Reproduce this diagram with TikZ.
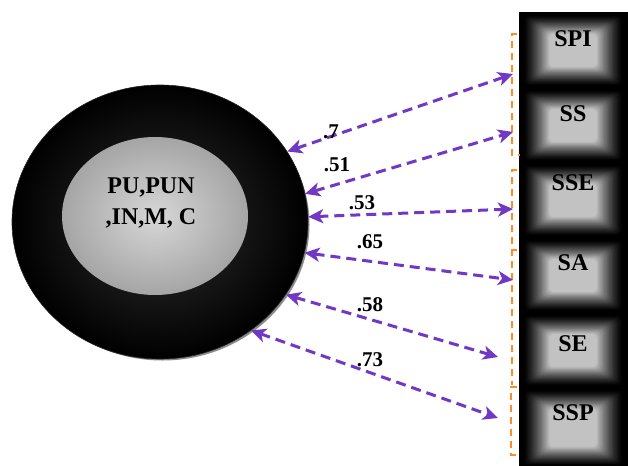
\documentclass[tikz,border=0pt]{standalone}
\usepackage{fontspec}
\setmainfont{Liberation Serif}
\usetikzlibrary{shapes.geometric,arrows.meta}
\definecolor{arrowpurple}{RGB}{112,56,196}
\definecolor{bracketorange}{RGB}{255,140,40}
\definecolor{ringgrey}{RGB}{48,48,48}
\definecolor{rimgrey}{RGB}{140,140,140}
\definecolor{innerlight}{RGB}{215,215,215}
\definecolor{innerdark}{RGB}{165,165,165}
\tikzset{
  obsbox/.style={rectangle, minimum width=108pt, minimum height=75pt, inner sep=0pt,
    fill=black, draw=black, line width=0.8pt,
    path picture={
      \foreach \i in {0,...,21}{
        \pgfmathsetmacro\pp{76*(\i/21)^1.3}
        \pgfmathsetmacro\dx{4+1.25*\i}
        \pgfmathsetmacro\dy{3+0.9*\i}
        \fill[white!\pp!black, rounded corners=4pt]
          ([xshift=\dx pt, yshift=\dy pt - 2pt]path picture bounding box.south west) rectangle
          ([xshift=-\dx pt, yshift=-\dy pt]path picture bounding box.north east);
      }
    }},
  boxlabel/.style={font=\fontsize{24}{28}\selectfont\bfseries, text=black, anchor=north},
  outerell/.style={ellipse, minimum width=296pt, minimum height=274pt, inner sep=0pt,
    inner color=ringgrey, outer color=black, draw=black!85, line width=0.6pt},
  innerell/.style={ellipse, minimum width=186pt, minimum height=158pt, inner sep=0pt,
    inner color=innerlight, outer color=innerdark},
  lattext/.style={font=\fontsize{24}{31}\selectfont\bfseries, align=center, inner sep=0pt},
  biarrow/.style={draw=arrowpurple, line width=3pt, dash pattern=on 10pt off 6pt,
    {Stealth[length=15pt,width=14pt,inset=4pt]}-{Stealth[length=15pt,width=14pt,inset=4pt]}},
  coef/.style={font=\fontsize{21}{24}\selectfont\bfseries, inner sep=0pt},
  bracket/.style={draw=bracketorange, line width=1.5pt, dash pattern=on 7pt off 5pt}
}
\begin{document}
\begin{tikzpicture}[x=1pt,y=-1pt]
\useasboundingbox (0,0) rectangle (628,465);
\clip (0,0) rectangle (628,465);
\fill[white] (0,0) rectangle (628,465);

% observed boxes
\node[obsbox, label={[boxlabel, yshift=-15pt]north:SPI}] (spi) at (573,49.5) {};
\node[obsbox, label={[boxlabel, yshift=-15pt]north:SS}]  (ss)  at (573,124.5) {};
\node[obsbox, label={[boxlabel, yshift=-9pt]north:SSE}]  (sse) at (573,199.5) {};
\node[obsbox, label={[boxlabel, yshift=-14pt]north:SA}]  (sa)  at (573,274.5) {};
\node[obsbox, label={[boxlabel, yshift=-20pt]north:SE}]  (se)  at (573,349.5) {};
\node[obsbox, minimum height=80pt, label={[boxlabel, yshift=-14pt]north:SSP}] (ssp) at (573,427) {};

% orange dashed brackets
\draw[bracket] (517,34) -- (512,34) -- (512,155) -- (520,155);
\draw[bracket] (517,170) -- (512,170) -- (512,385);
\draw[bracket] (512,250) -- (517,250);
\draw[bracket] (517,387) -- (511,387) -- (511,455) -- (517,455);

% latent variable
\fill[rimgrey] (162.5,224.5) ellipse (147 and 136);
\node[outerell] (lat) at (160,222) {};
\node[innerell] (inner) at (155,216) {};
\node[lattext] (latname) at (151,203) {PU,PUN\\,IN,M, C};

% arrow end points
\coordinate (r1) at (513,74);
\coordinate (r2) at (513,132);
\coordinate (r3) at (513,209);
\coordinate (r4) at (513,280);
\coordinate (r5) at (498,357);
\coordinate (r6) at (498,418);

\draw[biarrow] (lat.29) -- (r1);
\draw[biarrow] (lat.11) -- (r2);
\draw[biarrow] (lat.2) -- (r3);
\draw[biarrow] (lat.-12) -- (r4);
\draw[biarrow] (lat.-30) -- (r5);
\draw[biarrow] (lat.-50) -- (r6);

% coefficients
\node[coef] (c1) at (331,132) {.7};
\node[coef] (c2) at (337,165) {.51};
\node[coef] (c3) at (362,203) {.53};
\node[coef] (c4) at (370,242) {.65};
\node[coef] (c5) at (370,305) {.58};
\node[coef] (c6) at (370,360) {.73};
\end{tikzpicture}
\end{document}
